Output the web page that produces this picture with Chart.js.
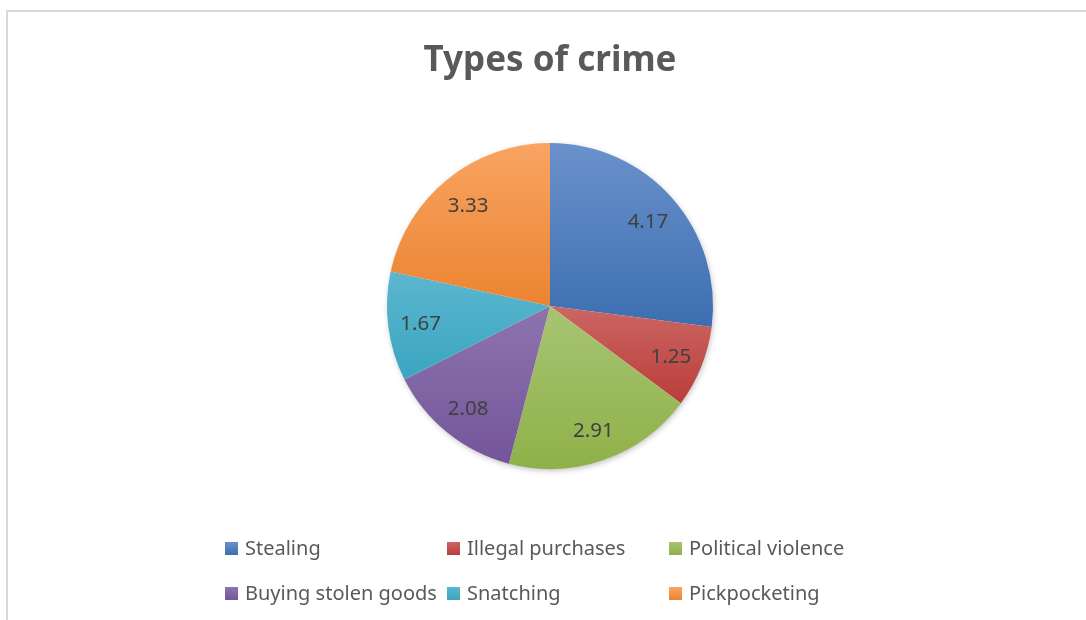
<!DOCTYPE html>
<html>
<head>
<meta charset="utf-8">
<script src="https://cdn.jsdelivr.net/npm/chart.js@4"></script>
<style>
  html, body { margin: 0; padding: 0; background: #fff; overflow: hidden; }
  #wrap { position: relative; width: 1086px; height: 620px; }
  #frame { position: absolute; left: 6px; top: 10px; width: 1100px; height: 700px; border: 2px solid #d9d9d9; box-sizing: border-box; }
  #chart { position: absolute; left: 0; top: 0; }
  .legend-item { position: absolute; font: 20px "Noto Sans", sans-serif; color: #595959; white-space: nowrap; line-height: 24px; }
  .legend-item span.box { position: absolute; left: 0; top: 6px; width: 13px; height: 13px; }
  .legend-item span.txt { position: absolute; left: 20px; top: 0; }
</style>
</head>
<body>
<div id="wrap">
  <div id="frame"></div>
  <canvas id="chart" width="1086" height="620"></canvas>
  <div id="legend"></div>
</div>
<script>
// Types of crime - pie

const labels = ['Stealing', 'Illegal purchases', 'Political violence', 'Buying stolen goods', 'Snatching', 'Pickpocketing'];
const values = [4.17, 1.25, 2.91, 2.08, 1.67, 3.33];
const topColors = ['#6a91cb', '#cc6663', '#a8c474', '#8d74ae', '#5bb7cf', '#f9a462'];
const bottomColors = ['#3c6eb0', '#b93d3a', '#8fb148', '#74559a', '#3ba5c0', '#eb8431'];
const legendColors = ['#4f81bd', '#c0504d', '#9bbb59', '#8064a2', '#4bacc6', '#f79646'];

const RADIUS = 163;

// vertical extent of a slice (angles measured clockwise from top)
function sliceExtent(i, cy, r) {
  const total = values.reduce((a, b) => a + b, 0);
  let start = 0;
  for (let k = 0; k < i; k++) start += values[k] / total * Math.PI * 2;
  const end = start + values[i] / total * Math.PI * 2;
  const ys = [cy, cy - r * Math.cos(start), cy - r * Math.cos(end)];
  if (start <= 0 && end >= 0) ys.push(cy - r);
  if (start <= Math.PI && end >= Math.PI) ys.push(cy + r);
  return [Math.min(...ys), Math.max(...ys)];
}

function sliceFill(ctx) {
  const chart = ctx.chart;
  const area = chart.chartArea;
  if (!area) return legendColors[ctx.dataIndex];
  const cy = (area.top + area.bottom) / 2;
  const [y0, y1] = sliceExtent(ctx.dataIndex, cy, RADIUS);
  const g = chart.ctx.createLinearGradient(0, y0, 0, y1);
  g.addColorStop(0, topColors[ctx.dataIndex]);
  g.addColorStop(1, bottomColors[ctx.dataIndex]);
  return g;
}

const pieShadow = {
  id: 'pieShadow',
  beforeDatasetsDraw(chart) {
    const meta = chart.getDatasetMeta(0);
    if (!meta.data.length) return;
    const arc = meta.data[0];
    const ctx = chart.ctx;
    ctx.save();
    ctx.shadowColor = 'rgba(0,0,0,0.3)';
    ctx.shadowBlur = 6;
    ctx.shadowOffsetX = 1;
    ctx.shadowOffsetY = 2;
    ctx.fillStyle = '#ffffff';
    ctx.beginPath();
    ctx.arc(arc.x, arc.y, arc.outerRadius - 1, 0, Math.PI * 2);
    ctx.fill();
    ctx.restore();
  }
};

const valueLabels = {
  id: 'valueLabels',
  afterDatasetsDraw(chart) {
    const ctx = chart.ctx;
    const meta = chart.getDatasetMeta(0);
    ctx.save();
    ctx.font = '20.5px "Noto Sans", sans-serif';
    ctx.fillStyle = '#404040';
    ctx.textAlign = 'center';
    ctx.textBaseline = 'middle';
    meta.data.forEach((arc, i) => {
      const p = arc.getProps(['x', 'y', 'startAngle', 'endAngle', 'outerRadius'], true);
      const mid = (p.startAngle + p.endAngle) / 2;
      const r = p.outerRadius * 0.8;
      ctx.fillText(values[i].toFixed(2), p.x + Math.cos(mid) * r, p.y + Math.sin(mid) * r + 2);
    });
    ctx.restore();
  }
};

new Chart(document.getElementById('chart'), {
  type: 'pie',
  plugins: [pieShadow, valueLabels],
  data: {
    labels: labels,
    datasets: [{
      data: values,
      backgroundColor: sliceFill,
      borderWidth: 0,
      hoverOffset: 0,
      radius: RADIUS
    }]
  },
  options: {
    responsive: false,
    animation: false,
    layout: { padding: { left: 14, right: 0, top: 0, bottom: 151 } },
    plugins: {
      legend: { display: false },
      tooltip: { enabled: false },
      title: {
        display: true,
        text: 'Types of crime',
        color: '#595959',
        font: { family: '"Noto Sans", sans-serif', size: 35, weight: 'bold', lineHeight: 1.2 },
        padding: { top: 40, bottom: 61 }
      }
    }
  }
});

// legend laid out in fixed columns like the original
const legend = document.getElementById('legend');
const colX = [225, 447, 669];
const rowY = [536, 581];
labels.forEach((name, i) => {
  const item = document.createElement('div');
  item.className = 'legend-item';
  item.style.left = colX[i % 3] + 'px';
  item.style.top = rowY[Math.floor(i / 3)] + 'px';
  item.innerHTML = '<span class="box"></span><span class="txt"></span>';
  item.querySelector('.box').style.background = 'linear-gradient(' + topColors[i] + ',' + bottomColors[i] + ')';
  item.querySelector('.txt').textContent = name;
  legend.appendChild(item);
});
</script>
</body>
</html>
